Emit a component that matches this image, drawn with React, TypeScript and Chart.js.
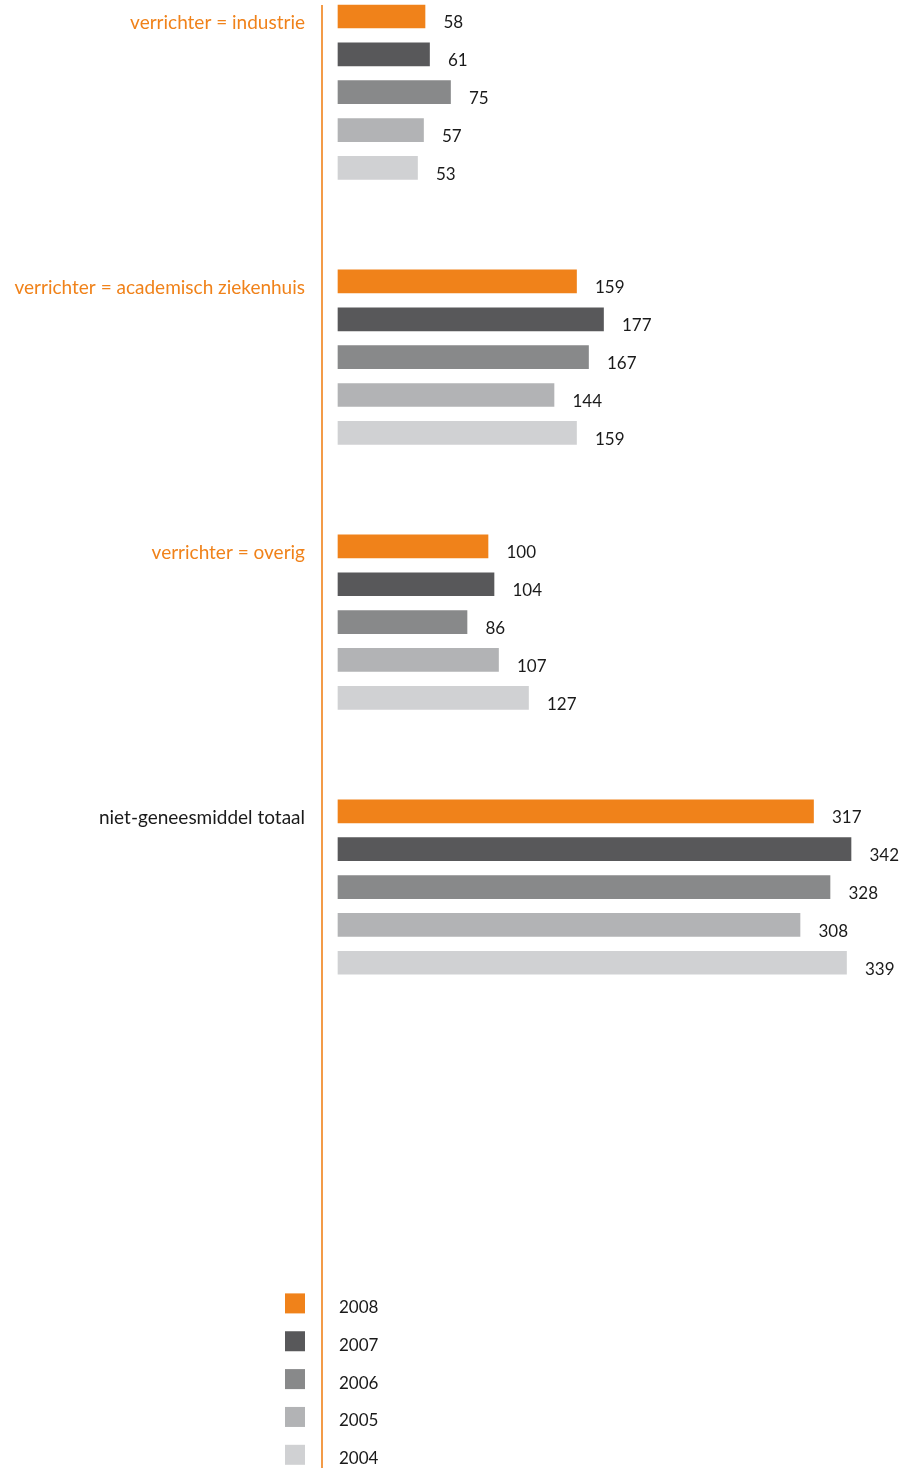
import React, { useEffect, useRef } from "react";
import { Chart, registerables } from "chart.js";

Chart.register(...registerables);

const groups = [
  "verrichter = industrie",
  "verrichter = academisch ziekenhuis",
  "verrichter = overig",
  "niet-geneesmiddel totaal",
];
const years = ["2008", "2007", "2006", "2005", "2004"];
const v2008 = [58, 159, 100, 317];
const v2007 = [61, 177, 104, 342];
const v2006 = [75, 167, 86, 328];
const v2005 = [57, 144, 107, 308];
const v2004 = [53, 159, 127, 339];
const seriesValues = [v2008, v2007, v2006, v2005, v2004];
const colors = ["#F0821A", "#58585A", "#88898A", "#B2B3B5", "#D0D1D3"];

const ORANGE = "#F0821A";
const FONT = "Lato";
const ROWS_PER_GROUP = 7;
const LEGEND_START_ROW = 34;
const TOTAL_ROWS = 39;

export default function App() {
  const ref = useRef<HTMLCanvasElement | null>(null);

  useEffect(() => {
    if (!ref.current) return;
    const labels: string[] = Array.from({ length: TOTAL_ROWS }, () => "");
    groups.forEach((g, gi) => (labels[gi * ROWS_PER_GROUP] = g));

    const datasets = years.map((yr, si) => {
      const data: (number | null)[] = Array.from({ length: TOTAL_ROWS }, () => null);
      seriesValues[si].forEach((v, gi) => (data[gi * ROWS_PER_GROUP + si] = v));
      return {
        label: yr,
        data,
        backgroundColor: colors[si],
        borderWidth: 0,
        barThickness: 23,
        grouped: false,
        clip: false as any,
      };
    });

    const axisLine = {
      id: "axisLine",
      beforeDatasetsDraw(chart: any) {
        const c = chart.ctx;
        const x = chart.chartArea.left;
        c.save();
        c.strokeStyle = ORANGE;
        c.lineWidth = 1.6;
        c.beginPath();
        c.moveTo(x, 5);
        c.lineTo(x, chart.height);
        c.stroke();
        c.restore();
      },
    };

    const valueLabels = {
      id: "valueLabels",
      afterDatasetsDraw(chart: any) {
        const c = chart.ctx;
        c.save();
        c.font = `17px ${FONT}`;
        c.fillStyle = "#1a1a1a";
        c.textAlign = "left";
        c.textBaseline = "middle";
        chart.data.datasets.forEach((ds: any, di: number) => {
          const meta = chart.getDatasetMeta(di);
          meta.data.forEach((el: any, i: number) => {
            const v = ds.data[i];
            if (v === null || v === undefined) return;
            c.fillText(String(v), el.x + 18.5, el.y + 6.5);
          });
        });
        c.restore();
      },
    };

    const legendRows = {
      id: "legendRows",
      afterDatasetsDraw(chart: any) {
        const c = chart.ctx;
        const yScale = chart.scales.y;
        c.save();
        c.font = `17px ${FONT}`;
        c.textAlign = "left";
        c.textBaseline = "middle";
        years.forEach((yr, i) => {
          const y = yScale.getPixelForValue(LEGEND_START_ROW + i);
          c.fillStyle = colors[i];
          c.fillRect(285, y - 10, 20, 20);
          c.fillStyle = "#1a1a1a";
          c.fillText(yr, 339, y + 4);
        });
        c.restore();
      },
    };

    const chart = new Chart(ref.current, {
      type: "bar",
      data: { labels, datasets: datasets as any },
      options: {
        indexAxis: "y",
        animation: false,
        responsive: false,
        maintainAspectRatio: false,
        layout: { padding: { top: 16.5, bottom: 13.2, left: 0, right: 0 } },
        plugins: { legend: { display: false }, tooltip: { enabled: false } },
        scales: {
          x: {
            type: "linear",
            min: -16 / 1.5,
            max: (905 - 322 - 16) / 1.5,
            display: false,
          },
          y: {
            type: "category",
            offset: false,
            grid: { display: false, drawTicks: false },
            border: { display: false },
            afterFit(scale: any) {
              scale.width = 322;
              scale.paddingTop = 0;
              scale.paddingBottom = 0;
            },
            ticks: {
              autoSkip: false,
              padding: 17,
              labelOffset: 6.5,
              font: { family: FONT, size: 19 },
              color: (ctx: any) => (ctx.index === 3 * ROWS_PER_GROUP ? "#1a1a1a" : ORANGE),
            },
          },
        },
      },
      plugins: [axisLine, valueLabels, legendRows],
    });
    return () => chart.destroy();
  }, []);

  return (
    <div style={{ position: "absolute", left: 0, top: 0, width: 905, height: 1468 }}>
      <canvas ref={ref} width={905} height={1468} style={{ width: 905, height: 1468 }} />
    </div>
  );
}
